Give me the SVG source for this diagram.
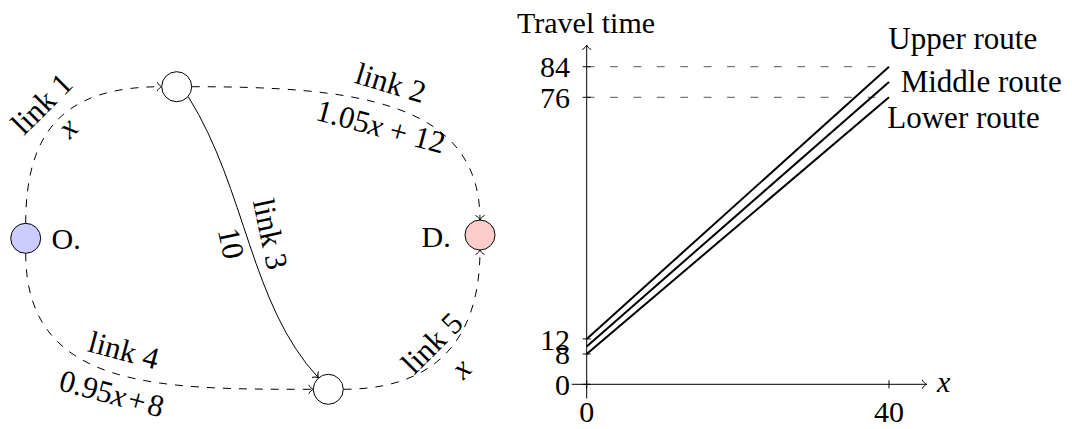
<svg xmlns="http://www.w3.org/2000/svg" width="1072" height="429" viewBox="0 0 1072 429">
<style>
text{font-family:"Liberation Serif","Times New Roman",serif;font-size:30px;fill:#000}
.it{font-style:italic}
.ll{font-size:31px}
.node{stroke:#000;stroke-width:1}
.dash{fill:none;stroke:#000;stroke-width:1;stroke-dasharray:8 8}
.solid{fill:none;stroke:#000;stroke-width:1}
.axis{fill:none;stroke:#000;stroke-width:1}
.tick{stroke:#000;stroke-width:1}
.guide{fill:none;stroke:#555;stroke-width:1;stroke-dasharray:7.8 15.6}
.route{fill:none;stroke:#000;stroke-width:2}
.rl{font-size:31px}
</style>
<defs>
<marker id="arr" markerUnits="userSpaceOnUse" orient="auto" refX="0" refY="0" markerWidth="10" markerHeight="10" overflow="visible">
<path d="M-4.5,-4.5 C-3.5,-2 -1.2,-0.5 0,0 C-1.2,0.5 -3.5,2 -4.5,4.5" fill="none" stroke="#000" stroke-width="1" stroke-dasharray="none"/>
</marker>
</defs>
<rect x="0" y="0" width="1072" height="429" fill="#fff"/>

<g id="connectors">
<g id="link1">
<path class="dash" d="M25.7,223.3 C25.7,128 66.7,86.7 161.7,86.7" marker-end="url(#arr)"/>
<text class="ll" transform="translate(42,104) rotate(-45)" y="10" text-anchor="middle">link 1</text>
<text class="ll it" transform="translate(70,130) rotate(-45)" y="7" text-anchor="middle">x</text>
</g>
<g id="link2">
<path class="dash" d="M191.7,86.7 C351.7,86.7 480,100 480,220" marker-end="url(#arr)"/>
<text class="ll" transform="translate(390.7,83.3) rotate(17)" y="10" text-anchor="middle">link 2</text>
<text class="ll" transform="translate(380.7,127) rotate(15)" y="10" text-anchor="middle">1.05<tspan class="it">x</tspan> + 12</text>
</g>
<g id="link3">
<path class="solid" d="M188.3,96.7 C246.6,190.2 250.3,304.7 318.3,377.7" marker-end="url(#arr)"/>
<text class="ll" transform="translate(270,234) rotate(78)" y="10" text-anchor="middle">link 3</text>
<text class="ll" transform="translate(230.7,243.3) rotate(78)" y="10" text-anchor="middle">10</text>
</g>
<g id="link4">
<path class="dash" d="M25.7,253.3 C25.7,390 160,389.3 313.3,389.3" marker-end="url(#arr)"/>
<text class="ll" transform="translate(123.7,350.7) rotate(15)" y="10" text-anchor="middle">link 4</text>
<text class="ll" transform="translate(111.7,394) rotate(15)" y="10" text-anchor="middle">0.95<tspan class="it">x</tspan><tspan dx="3">+</tspan><tspan dx="3">8</tspan></text>
</g>
<g id="link5">
<path class="dash" d="M343.3,389.3 C460,389.3 480,310 480,250" marker-end="url(#arr)"/>
<text class="ll" transform="translate(432.3,343.3) rotate(-45)" y="10" text-anchor="middle">link 5</text>
<text class="ll it" transform="translate(463.3,370.7) rotate(-45)" y="7" text-anchor="middle">x</text>
</g>
</g>

<g id="node-top"><circle class="node" cx="176.7" cy="86.7" r="15" fill="#fff"/></g>
<g id="node-O"><circle class="node" cx="25.7" cy="238.3" r="15" fill="#ccccff"/><text x="51.5" y="248.5">O.</text></g>
<g id="node-D"><circle class="node" cx="480" cy="235" r="15" fill="#ffcccc"/><text x="421.5" y="246.5">D.</text></g>
<g id="node-bottom"><circle class="node" cx="328.3" cy="389.3" r="15" fill="#fff"/></g>

<g id="plot">
<line class="guide" x1="586.7" y1="66.7" x2="889" y2="66.7"/>
<line class="guide" x1="586.7" y1="97.3" x2="889" y2="97.3"/>
<line class="axis" x1="571.7" y1="384.3" x2="926.7" y2="384.3" marker-end="url(#arr)"/>
<line class="axis" x1="586.7" y1="398.5" x2="586.7" y2="45" marker-end="url(#arr)"/>
<line class="tick" x1="582.7" y1="66.7" x2="590.7" y2="66.7"/>
<line class="tick" x1="582.7" y1="97.3" x2="590.7" y2="97.3"/>
<line class="tick" x1="582.7" y1="338.9" x2="590.7" y2="338.9"/>
<line class="tick" x1="582.7" y1="354" x2="590.7" y2="354"/>
<line class="tick" x1="582.7" y1="384.3" x2="590.7" y2="384.3"/>
<line class="tick" x1="586.7" y1="380.3" x2="586.7" y2="388.3"/>
<line class="tick" x1="889" y1="380.3" x2="889" y2="388.3"/>
<line class="route" x1="586.7" y1="338.9" x2="889" y2="66.7"/>
<line class="route" x1="586.7" y1="346.5" x2="889" y2="81.9"/>
<line class="route" x1="586.7" y1="354" x2="889" y2="97.3"/>
<text x="517" y="33">Travel time</text>
<text x="570" y="77" text-anchor="end">84</text>
<text x="570" y="107.6" text-anchor="end">76</text>
<text x="570" y="349.5" text-anchor="end">12</text>
<text x="570" y="364.3" text-anchor="end">8</text>
<text x="570" y="394.6" text-anchor="end">0</text>
<text x="586.7" y="421.7" text-anchor="middle">0</text>
<text x="889" y="421.7" text-anchor="middle">40</text>
<text class="it" x="937" y="391.7">x</text>
<text class="rl" x="888.3" y="49">Upper route</text>
<text class="rl" x="900.7" y="92.3">Middle route</text>
<text class="rl" x="887.3" y="128.3">Lower route</text>
</g>
</svg>
